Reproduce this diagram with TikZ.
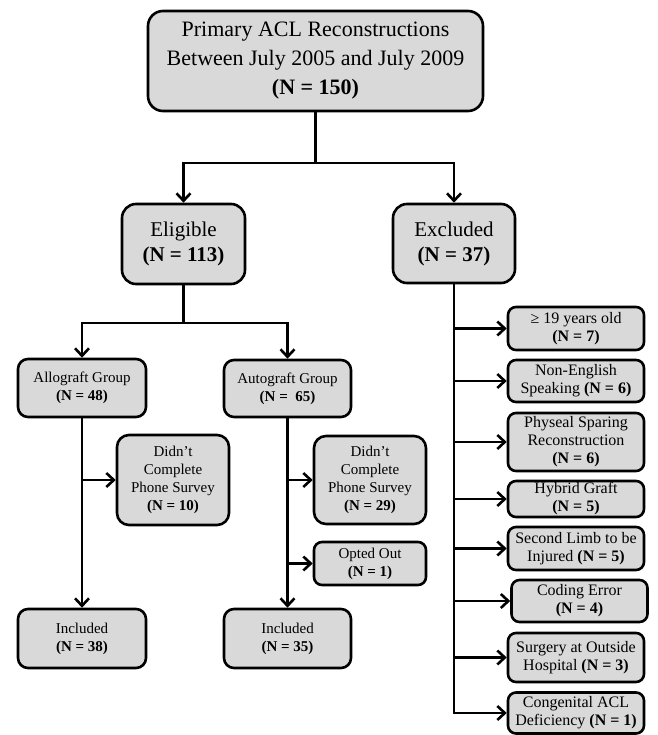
\documentclass[tikz,border=0pt]{standalone}
\usepackage{fontspec}
\setmainfont{Liberation Serif}
\usetikzlibrary{arrows.meta}
\definecolor{boxgray}{RGB}{217,217,217}
\begin{document}
\begin{tikzpicture}[x=1pt,y=-1pt,
  box/.style={draw=black,line width=2.6pt,fill=boxgray,rounded corners=10pt,align=center,inner sep=0pt,font=\fontsize{15}{18}\selectfont},
  bigbox/.style={box,rounded corners=15pt},
  rbox/.style={box,rounded corners=8pt,minimum width=136pt,font=\fontsize{16}{18}\selectfont},
  conn/.style={line width=2.6pt},
  arr/.style={conn,-{Straight Barb[length=7.5pt,width=14pt]}}
]
\useasboundingbox (0,0) rectangle (657,735);

\node[bigbox,minimum width=335pt,minimum height=100pt,font=\fontsize{22}{29}\selectfont] (top) at (315.5,61) {Primary ACL Reconstructions\\Between July 2005 and July 2009\\\textbf{(N = 150)}};
\node[bigbox,minimum width=123pt,minimum height=80pt,font=\fontsize{21}{25}\selectfont,rounded corners=14pt] (elig) at (183.5,244) {Eligible\\\textbf{(N = 113)}};
\node[bigbox,minimum width=122pt,minimum height=79pt,font=\fontsize{21}{25}\selectfont,rounded corners=14pt] (excl) at (454,243.5) {Excluded\\\textbf{(N = 37)}};

\node[box,minimum width=128pt,minimum height=58pt] (allo) at (82,388) {Allograft Group\\\textbf{(N = 48)}};
\node[box,minimum width=127pt,minimum height=57pt] (auto) at (287.5,388.5) {Autograft Group\\\textbf{(N = \ 65)}};
\node[box,minimum width=112pt,minimum height=90pt,rounded corners=12pt] (dca) at (173,480) {Didn’t\\Complete\\Phone Survey\\\textbf{(N = 10)}};
\node[box,minimum width=112pt,minimum height=88pt,rounded corners=12pt] (dcb) at (370,480) {Didn’t\\Complete\\Phone Survey\\\textbf{(N = 29)}};
\node[box,minimum width=112pt,minimum height=43pt,rounded corners=8pt] (opt) at (370,563.5) {Opted Out\\\textbf{(N = 1)}};
\node[box,minimum width=128pt,minimum height=59pt] (inca) at (82,638.5) {Included\\\textbf{(N = 38)}};
\node[box,minimum width=127pt,minimum height=59pt] (incb) at (287.5,638.5) {Included\\\textbf{(N = 35)}};

\node[rbox,minimum height=43pt] (r1) at (576,328.5) {≥ 19 years old\\\textbf{(N = 7)}};
\node[rbox,minimum height=42pt] (r2) at (576,381) {Non-English\\Speaking \textbf{(N = 6)}};
\node[rbox,minimum height=58pt] (r3) at (576,442) {Physeal Sparing\\Reconstruction\\\textbf{(N = 6)}};
\node[rbox,minimum height=36pt] (r4) at (576,499) {Hybrid Graft\\\textbf{(N = 5)}};
\node[rbox,minimum height=43pt] (r5) at (576,548.5) {Second Limb to be\\Injured \textbf{(N = 5)}};
\node[rbox,minimum height=42pt] (r6) at (579.5,601) {Coding Error\\\textbf{(N = 4)}};
\node[rbox,minimum height=49pt] (r7) at (576,657.5) {Surgery at Outside\\Hospital \textbf{(N = 3)}};
\node[rbox,minimum height=41pt] (r8) at (576,713) {Congenital ACL\\Deficiency \textbf{(N = 1)}};

\coordinate (j1) at (315.5,163);
\coordinate (j2) at (183.5,323);

\draw[conn] (top.south) -- (j1);
\draw[arr] (j1) -| (elig.north);
\draw[arr] (j1) -| (excl.north);
\draw[conn] (elig.south) -- (j2);
\draw[arr] (j2) -| (allo.north);
\draw[arr] (j2) -| (auto.north);

\draw[arr] (allo.south) -- (inca.north);
\draw[arr] (allo.south |- dca.west) -- (dca.west);
\draw[arr] (auto.south) -- (incb.north);
\draw[arr] (auto.south |- dcb.west) -- (dcb.west);
\draw[arr] (auto.south |- opt.west) -- (opt.west);

\draw[arr] (excl.south) |- (r8.west);
\foreach \r in {r1,r2,r3,r4,r5,r6,r7}{
  \draw[arr] (excl.south |- \r.west) -- (\r.west);
}
\end{tikzpicture}
\end{document}
